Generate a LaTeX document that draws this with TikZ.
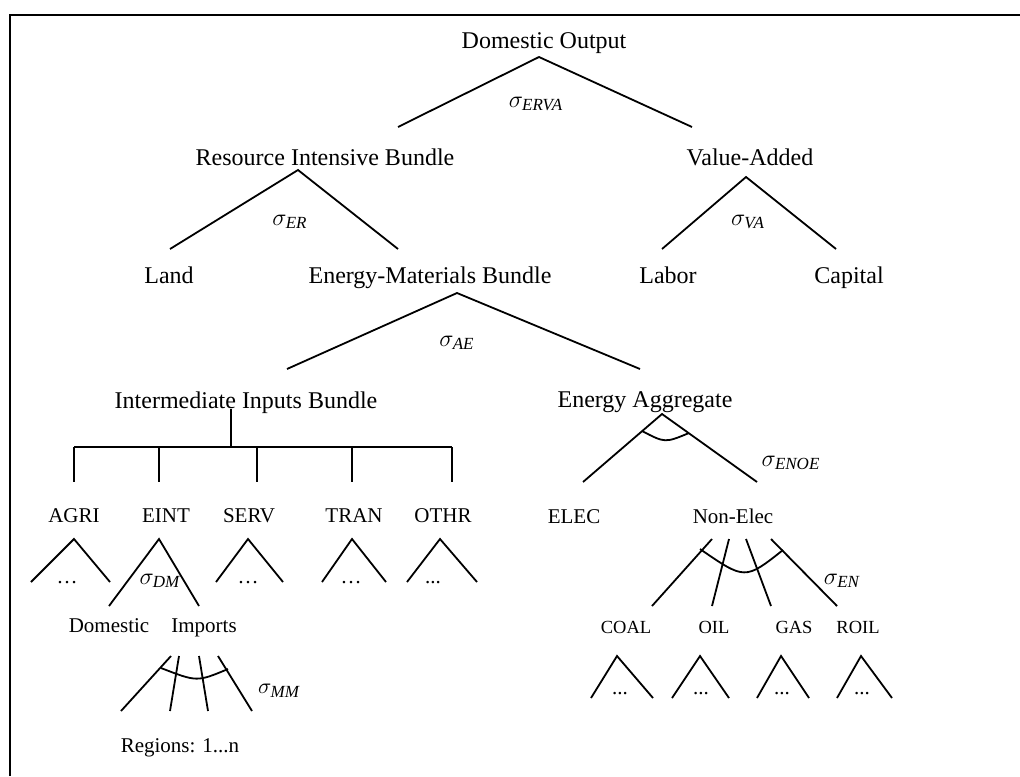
\documentclass[tikz,border=0pt]{standalone}
\usepackage{fontspec}
\setmainfont{Liberation Serif}
\newcommand{\sgsub}[1]{\mbox{\fontsize{8.5}{10}\selectfont\itshape #1}}
\begin{document}
\begin{tikzpicture}[x=0.5pt,y=-0.5pt,line width=0.9pt,
  big/.style={font=\fontsize{12}{14}\selectfont,inner sep=0pt,anchor=base},
  mid/.style={font=\fontsize{10.5}{12}\selectfont,inner sep=0pt,anchor=base},
  sml/.style={font=\fontsize{9.25}{11}\selectfont,inner sep=0pt,anchor=base},
  sig/.style={font=\fontsize{12}{14}\selectfont,inner sep=0pt},
  sigs/.style={font=\fontsize{10.5}{12}\selectfont,inner sep=0pt},
  dots/.style={font=\fontsize{10.5}{12}\selectfont,inner sep=0pt,anchor=base},
  frame/.style={line width=1pt}]
\useasboundingbox (0,0) rectangle (1020,776);
% frame
\coordinate (fbl) at (10,776);
\coordinate (ftl) at (10,14.5);
\coordinate (ftr) at (1020,14.5);
\draw[frame] (fbl) -- (ftl) -- (ftr);

% text nodes
\node[big] (dout) at (544,48) {Domestic Output};
\node[big] (rib) at (325,165) {Resource Intensive Bundle};
\node[big] (va) at (750,165) {Value-Added};
\node[big] (land) at (169,283) {Land};
\node[big] (emb) at (430,283) {Energy-Materials Bundle};
\node[big] (labor) at (668,283) {Labor};
\node[big] (capital) at (849,283) {Capital};
\node[big] (iib) at (246,408) {Intermediate Inputs Bundle};
\node[big] (ea) at (645,407) {Energy Aggregate};
\node[mid] (agri) at (74,522) {AGRI};
\node[mid] (eint) at (166,522) {EINT};
\node[mid] (serv) at (249,522) {SERV};
\node[mid] (tran) at (354,522) {TRAN};
\node[mid] (othr) at (443,522) {OTHR};
\node[mid] (elec) at (574,523) {ELEC};
\node[mid] (nonelec) at (733,523) {Non-Elec};
\node[mid] (dom) at (109,632) {Domestic};
\node[mid] (imp) at (204,632) {Imports};
\node[sml] (coal) at (626,633) {COAL};
\node[sml] (oil) at (714,633) {OIL};
\node[sml] (gas) at (794,633) {GAS};
\node[sml] (roil) at (858,633) {ROIL};
\node[mid] (regions) at (180,752) {Regions: 1...n};

% dots
\node[dots] (dagri) at (67,583) {\ldots};
\node[dots] (dserv) at (248,583) {\ldots};
\node[dots] (dtran) at (351,583) {\ldots};
\node[dots] (dothr) at (433,583) {...};
\node[dots] (dcoal) at (620,694) {...};
\node[dots] (doil) at (701,694) {...};
\node[dots] (dgas) at (782,694) {...};
\node[dots] (droil) at (862,694) {...};

% sigma labels
\node[sig] (servaa) at (536,104) {$\sigma_{\sgsub{ERVA}}$};
\node[sig] (ser) at (290,222) {$\sigma_{\sgsub{ER}}$};
\node[sig] (sva) at (748,222) {$\sigma_{\sgsub{VA}}$};
\node[sig] (sae) at (457,343) {$\sigma_{\sgsub{AE}}$};
\node[sig] (senoe) at (791,463) {$\sigma_{\sgsub{ENOE}}$};
\node[sig] (sdm) at (160,581) {$\sigma_{\sgsub{DM}}$};
\node[sigs] (smm) at (279,691) {$\sigma_{\sgsub{MM}}$};
\node[sig] (sen) at (842,581) {$\sigma_{\sgsub{EN}}$};

% top split
\coordinate (a0) at (539,57);
\coordinate (a0l) at (398,127);
\coordinate (a0r) at (692,127);
\draw (a0l) -- (a0) -- (a0r);
% resource intensive bundle
\coordinate (a1) at (298,170);
\coordinate (a1l) at (170,249);
\coordinate (a1r) at (398,249);
\draw (a1l) -- (a1) -- (a1r);
% value added
\coordinate (a2) at (746,177);
\coordinate (a2l) at (662,249);
\coordinate (a2r) at (836,249);
\draw (a2l) -- (a2) -- (a2r);
% energy-materials bundle
\coordinate (a3) at (457,293);
\coordinate (a3l) at (287,369);
\coordinate (a3r) at (640,369);
\draw (a3l) -- (a3) -- (a3r);
% intermediate inputs bundle bracket
\coordinate (b0) at (231,409);
\coordinate (b1) at (231,447);
\coordinate (bl) at (74,447);
\coordinate (br) at (452,447);
\draw (b0) -- (b1);
\draw (bl) -- (br);
\foreach \x/\n in {74/agri,159/eint,257/serv,352/tran,452/othr}{
  \coordinate (bt\n) at (\x,447);
  \coordinate (bb\n) at (\x,482);
  \draw (bt\n) -- (bb\n);
}
% energy aggregate
\coordinate (a4) at (662,414);
\coordinate (a4l) at (583,482);
\coordinate (a4r) at (757,482);
\draw (a4l) -- (a4) -- (a4r);
\coordinate (c4a) at (642,431);
\coordinate (c4b) at (689,433);
\draw (c4a) .. controls (665,443) .. (c4b);
% sector triangles
\foreach \ax/\lx/\rx/\n in {74/31/110/agri,248/216/283/serv,352/322/386/tran,440/407/477/othr}{
  \coordinate (t\n) at (\ax,539);
  \coordinate (t\n l) at (\lx,582);
  \coordinate (t\n r) at (\rx,582);
  \draw (t\n l) -- (t\n) -- (t\n r);
}
% EINT: domestic / imports
\coordinate (teint) at (159,539);
\coordinate (teintl) at (109,606);
\coordinate (teintr) at (199,606);
\draw (teintl) -- (teint) -- (teintr);
% imports fan
\coordinate (m1a) at (171,656); \coordinate (m1b) at (121,711);
\coordinate (m2a) at (179,656); \coordinate (m2b) at (170,711);
\coordinate (m3a) at (199,656); \coordinate (m3b) at (208,711);
\coordinate (m4a) at (218,656); \coordinate (m4b) at (252,711);
\draw (m1a) -- (m1b);
\draw (m2a) -- (m2b);
\draw (m3a) -- (m3b);
\draw (m4a) -- (m4b);
\coordinate (cma) at (161,668);
\coordinate (cmb) at (228,669);
\draw (cma) .. controls (197,682) .. (cmb);
% non-elec fan
\coordinate (n1a) at (712,539); \coordinate (n1b) at (652,606);
\coordinate (n2a) at (729,539); \coordinate (n2b) at (712,606);
\coordinate (n3a) at (746,539); \coordinate (n3b) at (771,606);
\coordinate (n4a) at (771,539); \coordinate (n4b) at (837,606);
\draw (n1a) -- (n1b);
\draw (n2a) -- (n2b);
\draw (n3a) -- (n3b);
\draw (n4a) -- (n4b);
\coordinate (cna) at (700,549);
\coordinate (cnb) at (783,550);
\draw (cna) .. controls (745,580) .. (cnb);
% fuel triangles
\foreach \ax/\lx/\rx/\n in {617/591/653/coal,700/672/729/oil,781/757/809/gas,861/837/892/roil}{
  \coordinate (f\n) at (\ax,656);
  \coordinate (f\n l) at (\lx,698);
  \coordinate (f\n r) at (\rx,698);
  \draw (f\n l) -- (f\n) -- (f\n r);
}
\end{tikzpicture}
\end{document}
